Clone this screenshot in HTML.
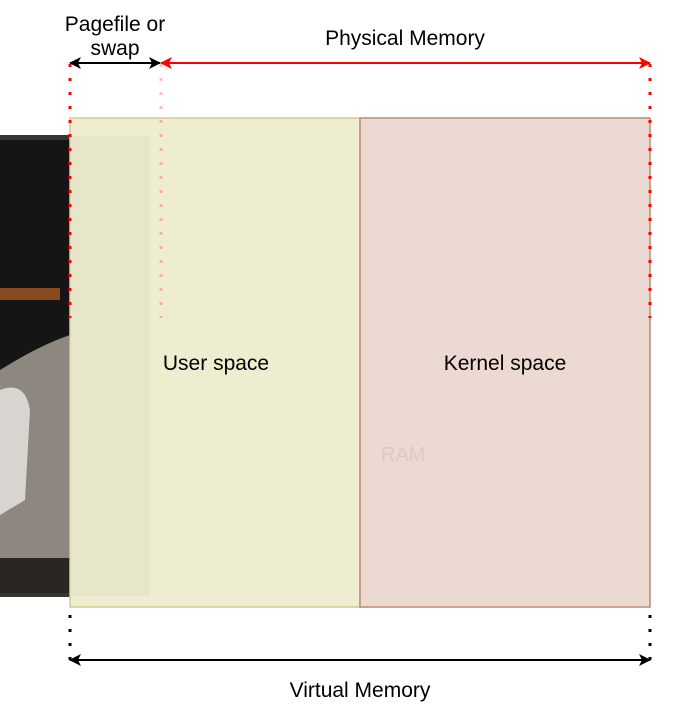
<!DOCTYPE html>
<html><head><style>
body{margin:0;width:687px;height:716px;background:#fff;overflow:hidden;font-family:"Liberation Sans",sans-serif}
</style></head><body>
<svg width="687" height="716" xmlns="http://www.w3.org/2000/svg" style="position:absolute;left:0;top:0">
<defs>
<marker id="ab" markerWidth="12" markerHeight="12" refX="11" refY="6" orient="auto-start-reverse" markerUnits="userSpaceOnUse"><path d="M0,0 L12,6 L0,12 L3,6 z" fill="#000"/></marker>
<marker id="ar" markerWidth="12" markerHeight="12" refX="11" refY="6" orient="auto-start-reverse" markerUnits="userSpaceOnUse"><path d="M0,0 L12,6 L0,12 L3,6 z" fill="#f00"/></marker>
<clipPath id="c"><rect x="0" y="135" width="70" height="462"/></clipPath>
</defs>
<!-- hard drive -->
<g clip-path="url(#c)">
<rect x="0" y="135" width="70" height="462" fill="#3a3530"/>
<rect x="0" y="140" width="70" height="450" fill="#151515"/>
<path d="M0,370 Q40,345 70,335 L70,560 L0,580 Z" fill="#8d8780"/>
<path d="M0,390 Q25,380 30,410 L25,500 L0,515 Z" fill="#d8d4cf"/>
<rect x="0" y="288" width="60" height="12" fill="#8a4a20"/>
<rect x="0" y="558" width="70" height="35" fill="#2a2622"/>
</g>
<!-- boxes -->
<rect x="70" y="118" width="290" height="489" fill="#eeedcf" stroke="#d6c98a" stroke-width="1.5"/>
<rect x="70" y="136" width="80" height="460" fill="#e2e0c4" opacity="0.5"/>
<rect x="360" y="118" width="290" height="489" fill="#ecd9d2" stroke="#b98a78" stroke-width="1.5"/>
<text x="381" y="461" font-size="20" fill="#e0c8c0">RAM</text>
<text x="216" y="370" font-size="21" text-anchor="middle">User space</text>
<text x="505" y="370" font-size="21" text-anchor="middle">Kernel space</text>
<!-- dotted lines -->
<g stroke="#f00" stroke-width="3" stroke-dasharray="3,11">
<line x1="70" y1="64" x2="70" y2="318"/>
<line x1="650" y1="64" x2="650" y2="318"/>
</g>
<line x1="161" y1="64" x2="161" y2="318" stroke="#f00" stroke-opacity="0.25" stroke-width="3" stroke-dasharray="3,11"/>
<g stroke="#000" stroke-width="3" stroke-dasharray="3,11">
<line x1="70" y1="615" x2="70" y2="662"/>
<line x1="650" y1="615" x2="650" y2="662"/>
</g>
<line x1="70" y1="63" x2="160" y2="63" stroke="#000" stroke-width="2" marker-start="url(#ab)" marker-end="url(#ab)"/>
<line x1="161" y1="63" x2="650" y2="63" stroke="#f00" stroke-width="2" marker-start="url(#ar)" marker-end="url(#ar)"/>
<line x1="70" y1="660" x2="650" y2="660" stroke="#000" stroke-width="2" marker-start="url(#ab)" marker-end="url(#ab)"/>
<text x="115" y="31" font-size="21" text-anchor="middle">Pagefile or</text>
<text x="115" y="55" font-size="21" text-anchor="middle">swap</text>
<text x="405" y="45" font-size="21" text-anchor="middle">Physical Memory</text>
<text x="360" y="697" font-size="21" text-anchor="middle">Virtual Memory</text>
</svg>
</body></html>
